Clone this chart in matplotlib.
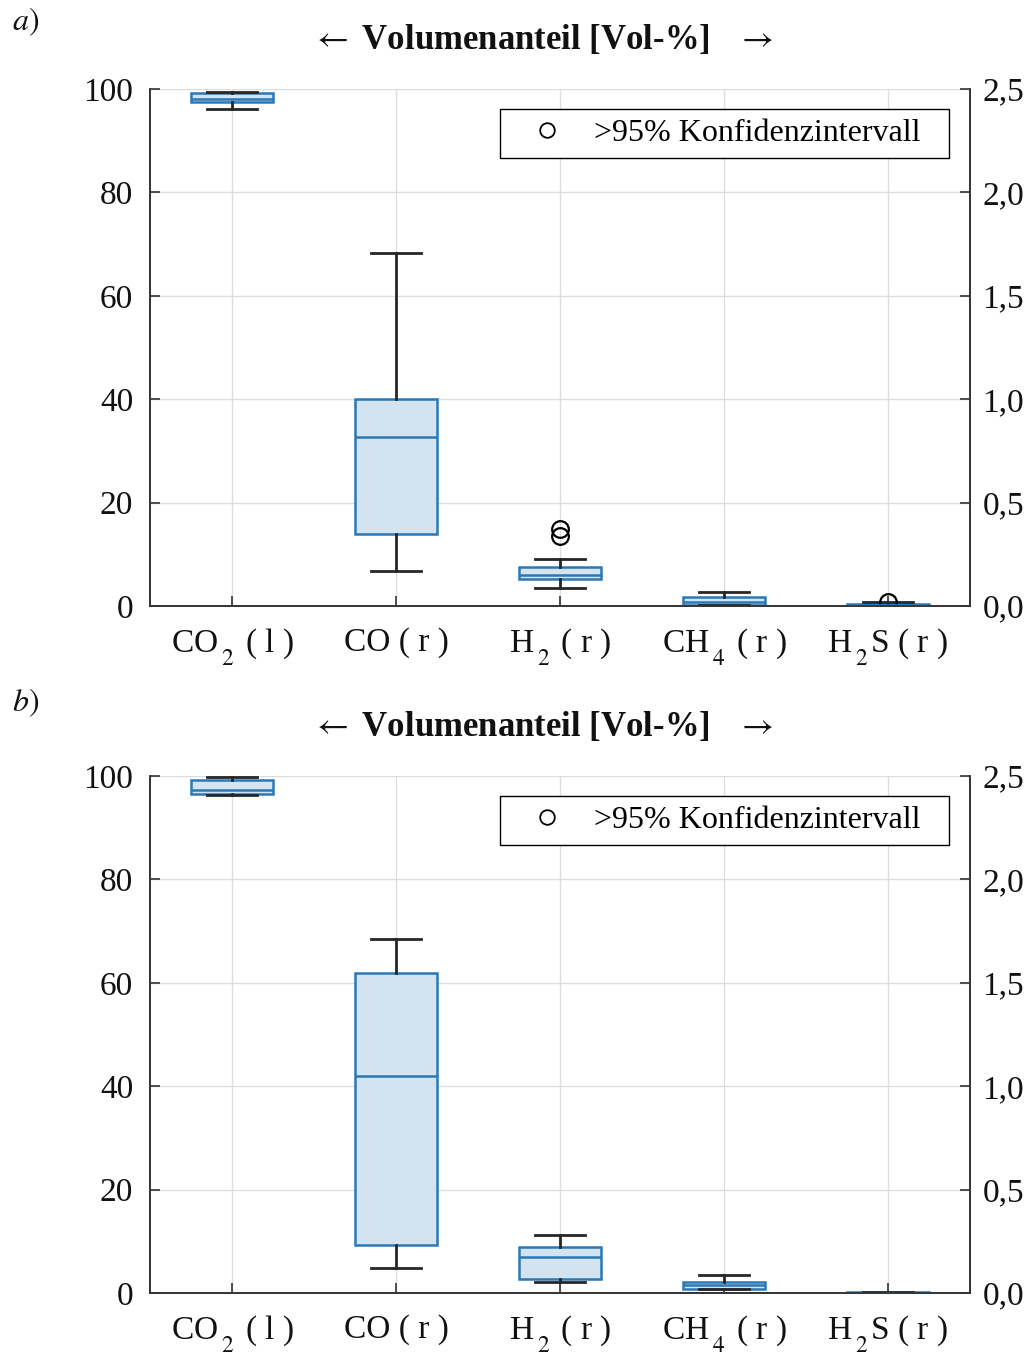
import matplotlib
matplotlib.use('Agg')
import matplotlib.pyplot as plt
from matplotlib.lines import Line2D
import numpy as np

plt.rcParams['font.family'] = ['Liberation Serif', 'DejaVu Serif']
plt.rcParams['mathtext.fontset'] = 'stix'
try:
    import matplotlib._mathtext as _mt
    _mt.STIXFontConstants.sub1 = 0.9
    _mt.STIXFontConstants.subdrop = 0.9
    _mt.STIXFontConstants.script_space = 0.22
except Exception:
    pass

categories = [r'CO$\,_2$ ( l )', 'CO ( r )', r'H$\,_2$ ( r )', r'CH$\,_4$ ( r )', r'H$\,_2$S ( r )']
axis_side = ['l', 'r', 'r', 'r', 'r']

left_ticks = [0, 20, 40, 60, 80, 100]
right_ticks = [0.0, 0.5, 1.0, 1.5, 2.0, 2.5]
right_ticklabels = ['0,0', '0,5', '1,0', '1,5', '2,0', '2,5']

# Panel a
a_q1 = [97.5, 0.348, 0.132, 0.006, 0.001]
a_med = [98.0, 0.817, 0.150, 0.019, 0.005]
a_q3 = [99.2, 1.000, 0.190, 0.042, 0.012]
a_lo = [96.1, 0.169, 0.087, 0.005, 0.0]
a_hi = [99.5, 1.707, 0.227, 0.068, 0.019]
a_fliers = [[], [], [0.339, 0.371], [], [0.021]]

# Panel b
b_q1 = [96.5, 0.232, 0.066, 0.021, 0.0]
b_med = [97.3, 1.049, 0.173, 0.037, 0.001]
b_q3 = [99.2, 1.547, 0.221, 0.053, 0.003]
b_lo = [96.3, 0.121, 0.053, 0.018, 0.0]
b_hi = [99.9, 1.712, 0.280, 0.086, 0.004]
b_fliers = [[], [], [], [], []]

legend_label = '>95% Konfidenzintervall'
title_text = r'$\leftarrow$ Volumenanteil [Vol-%]   $\rightarrow$'

EDGE = '#2a78b6'
FILL = '#d3e3ef'
WHISK = '#262626'
GRID = '#dddddd'
FS = 24

fig = plt.figure(figsize=(10.29, 13.56), dpi=100)


def draw_panel(rect, q1, med, q3, lo, hi, fl, tag, title_y, tag_y):
    ax = fig.add_axes(rect)
    ax2 = ax.twinx()
    stats = []
    for i in range(len(categories)):
        stats.append(dict(q1=q1[i], med=med[i], q3=q3[i], whislo=lo[i],
                          whishi=hi[i], fliers=np.array(fl[i], dtype=float)))
    kw = dict(widths=0.5, capwidths=0.3, patch_artist=True, showfliers=True,
              boxprops=dict(facecolor=FILL, edgecolor=EDGE, linewidth=1.8),
              medianprops=dict(color=EDGE, linewidth=1.8),
              whiskerprops=dict(color=WHISK, linewidth=2.0),
              capprops=dict(color=WHISK, linewidth=2.0),
              flierprops=dict(marker='o', markerfacecolor='none',
                              markeredgecolor='black', markersize=12,
                              markeredgewidth=1.6))
    li = [i for i, s in enumerate(axis_side) if s == 'l']
    ri = [i for i, s in enumerate(axis_side) if s == 'r']
    ax.bxp([stats[i] for i in li], positions=[i + 1 for i in li], **kw)
    ax2.bxp([stats[i] for i in ri], positions=[i + 1 for i in ri], **kw)

    ax.set_xlim(0.5, len(categories) + 0.5)
    ax.set_ylim(0, 100)
    ax2.set_ylim(0, 2.5)
    ax.set_yticks(left_ticks)
    ax.set_yticklabels([str(t) for t in left_ticks])
    ax2.set_yticks(right_ticks)
    ax2.set_yticklabels(right_ticklabels)
    ax.set_xticks(range(1, len(categories) + 1))
    ax.set_xticklabels(categories)
    ax2.set_xticks(range(1, len(categories) + 1))

    ax.grid(True, color=GRID, linewidth=1.0)
    ax.set_axisbelow(True)
    for a in (ax, ax2):
        a.spines['top'].set_visible(False)
        for s in ('left', 'right', 'bottom'):
            a.spines[s].set_color('#333333')
            a.spines[s].set_linewidth(1.2)
    ax.tick_params(axis='y', direction='in', length=7, width=1.2,
                   colors='#333333', labelcolor='#111111', labelsize=FS, pad=12)
    ax2.tick_params(axis='y', direction='in', length=7, width=1.2,
                    colors='#333333', labelcolor='#111111', labelsize=FS, pad=9)
    ax.tick_params(axis='x', direction='in', length=7, width=1.2,
                   colors='#333333', labelcolor='#111111', labelsize=FS, pad=15)

    handle = Line2D([], [], marker='o', linestyle='none', markerfacecolor='none',
                    markeredgecolor='black', markersize=10.5, markeredgewidth=1.3)
    leg = ax2.legend([handle], [legend_label], loc='upper left',
                     bbox_to_anchor=(350 / 820, 0.961, 449 / 820, 0.0),
                     mode='expand', borderaxespad=0,
                     fancybox=False, framealpha=1, edgecolor='black',
                     fontsize=FS - 1, handlelength=2.35, handletextpad=0.3,
                     borderpad=0.3)
    leg.get_frame().set_linewidth(1.0)

    fig.text(542 / 1029, 1 - title_y / 1356, title_text, fontsize=FS + 1,
             fontweight='bold', ha='center', va='center', color='#111111')
    fig.text(12 / 1029, 1 - tag_y / 1356, tag, fontsize=FS - 1,
             ha='left', va='center', color='#111111')


W = 820 / 1029
H = 517 / 1356
draw_panel([150 / 1029, 1 - 606 / 1356, W, H], a_q1, a_med, a_q3, a_lo, a_hi,
           a_fliers, r'$a)$', 40, 22)
draw_panel([150 / 1029, 1 - 1293 / 1356, W, H], b_q1, b_med, b_q3, b_lo, b_hi,
           b_fliers, r'$b)$', 727, 703)

fig.savefig('out.png', dpi=100)
